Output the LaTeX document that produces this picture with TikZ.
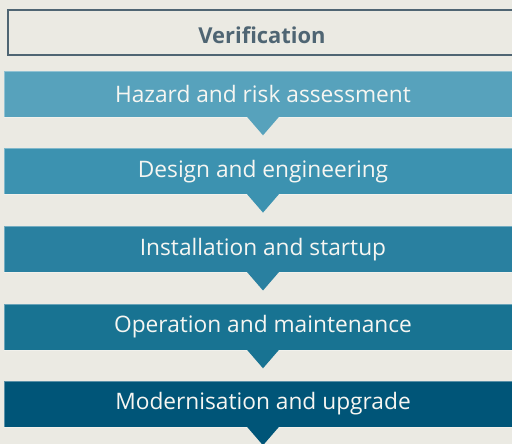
\documentclass[tikz,border=0pt]{standalone}
\usepackage{fontspec}
\setmainfont{Open Sans}
\definecolor{bg}{HTML}{EBEAE3}
\definecolor{cA}{HTML}{57A2BC}
\definecolor{cB}{HTML}{3C92B0}
\definecolor{cC}{HTML}{2980A0}
\definecolor{cD}{HTML}{187392}
\definecolor{cE}{HTML}{005578}
\definecolor{frame}{HTML}{4F6573}
\definecolor{txt}{HTML}{F6F6F2}
\tikzset{
  stage/.style={fill=#1, draw=white, draw opacity=0.35, line width=0.6bp,
    minimum width=518bp, minimum height=46bp, inner sep=0pt,
    text=txt, font=\fontsize{22.8}{26}\selectfont},
  verif/.style={draw=frame, line width=2.5bp, minimum width=511bp, minimum height=45bp,
    inner sep=0pt},
  veriftext/.style={text=frame, inner sep=0pt, anchor=base, font=\bfseries\fontsize{22}{26}\selectfont},
}
\begin{document}
\begin{tikzpicture}[x=1bp,y=-1bp]
\fill[bg] (0,0) rectangle (512,444);
\useasboundingbox (0,0) rectangle (512,444);
\clip (0,0) rectangle (512,444);
\node[verif] (v) at (263.5,32.5) {};
\node[veriftext] (vt) at ([yshift=-11bp,xshift=-1.5bp]v.center) {Verification};
\foreach \n/\yy/\c/\t in {b1/94/cA/Hazard and risk assessment,
  b2/171.3/cB/Design and engineering,
  b3/249.2/cC/Installation and startup,
  b4/327/cD/Operation and maintenance,
  b5/404/cE/Modernisation and upgrade}{
  \node[stage=\c] (\n) at (263,\yy) {\t};
  \fill[\c] ([xshift=-16bp,yshift=0.5bp]\n.south) -- ([xshift=16bp,yshift=0.5bp]\n.south) -- ([yshift=-18bp]\n.south) -- cycle;
}
\end{tikzpicture}
\end{document}
